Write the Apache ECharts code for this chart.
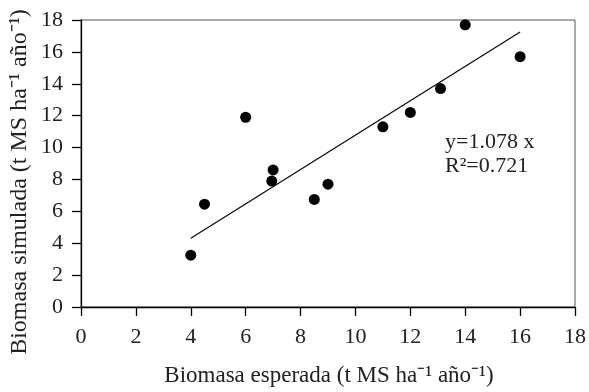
<!DOCTYPE html>
<html>
<head>
<meta charset="utf-8">
<script src="https://cdn.jsdelivr.net/npm/echarts@6/dist/echarts.min.js"></script>
<style>
  html, body { margin: 0; padding: 0; background: #fff; }
  #chart { width: 589px; height: 392px; }
</style>
</head>
<body>
<div id="chart"></div>
<script>
// valores
const esperada = [4, 4.5, 6, 7, 6.95, 8.5, 9, 11, 12, 13.1, 14, 16]
const simulada = [3.25, 6.45, 11.9, 8.6, 7.9, 6.75, 7.7, 11.3, 12.2, 13.7, 17.7, 15.7]

// recta de ajuste y=1.078 x, extremos
const rectaX = [4, 16]
const rectaY = [4.31, 17.25]

const xTicks = [0, 2, 4, 6, 8, 10, 12, 14, 16, 18]
const yTicks = [0, 2, 4, 6, 8, 10, 12, 14, 16, 18]

const fuente = 'Liberation Serif'

const chart = echarts.init(document.getElementById('chart'))

const option = {
    animation: false,
    backgroundColor: '#fff',
    grid: {
        left: 81,
        right: 14,
        top: 20,
        bottom: 85,
        show: true,
        borderColor: '#555',
        borderWidth: 1
    },
    xAxis: {
        type: 'value',
        min: xTicks[0],
        max: xTicks[xTicks.length - 1],
        interval: 2,
        splitLine: {show: false},
        axisLine: {show: true, lineStyle: {color: '#000', width: 1.3}},
        axisTick: {show: true, inside: false, length: 9, lineStyle: {color: '#000', width: 1.3}},
        axisLabel: {
            color: '#222',
            fontFamily: fuente,
            fontSize: 22,
            margin: 19,
            showMinLabel: true,
            showMaxLabel: true
        }
    },
    yAxis: {
        type: 'value',
        min: yTicks[0],
        max: yTicks[yTicks.length - 1],
        interval: 2,
        splitLine: {show: false},
        axisLine: {show: true, lineStyle: {color: '#000', width: 1.3}},
        axisTick: {show: true, inside: false, length: 9, lineStyle: {color: '#000', width: 1.3}},
        axisLabel: {
            color: '#222',
            fontFamily: fuente,
            fontSize: 22,
            margin: 18,
            showMinLabel: true,
            showMaxLabel: true
        }
    },
    graphic: [
        {
            type: 'text',
            x: 329,
            y: 364,
            style: {
                text: 'Biomasa esperada (t MS ha⁻¹ año⁻¹)',
                font: '23px "' + fuente + '"',
                fill: '#222',
                align: 'center',
                verticalAlign: 'top'
            }
        },
        {
            type: 'text',
            x: 8,
            y: 182,
            rotation: Math.PI / 2,
            style: {
                text: 'Biomasa simulada (t MS ha⁻¹ año⁻¹)',
                font: '24px "' + fuente + '"',
                fill: '#222',
                align: 'center',
                verticalAlign: 'top'
            }
        },
        {
            type: 'text',
            x: 445,
            y: 130,
            style: {
                text: 'y=1.078 x\nR²=0.721',
                font: '22px "' + fuente + '"',
                lineHeight: 24,
                fill: '#222'
            }
        }
    ],
    series: [
        {
            type: 'scatter',
            data: esperada.map((v, i) => [v, simulada[i]]),
            symbol: 'circle',
            symbolSize: 11,
            itemStyle: {color: '#000', opacity: 1}
        },
        {
            type: 'line',
            data: rectaX.map((v, i) => [v, rectaY[i]]),
            showSymbol: false,
            lineStyle: {color: '#000', width: 1.1}
        }
    ]
}

chart.setOption(option)
</script>
</body>
</html>
